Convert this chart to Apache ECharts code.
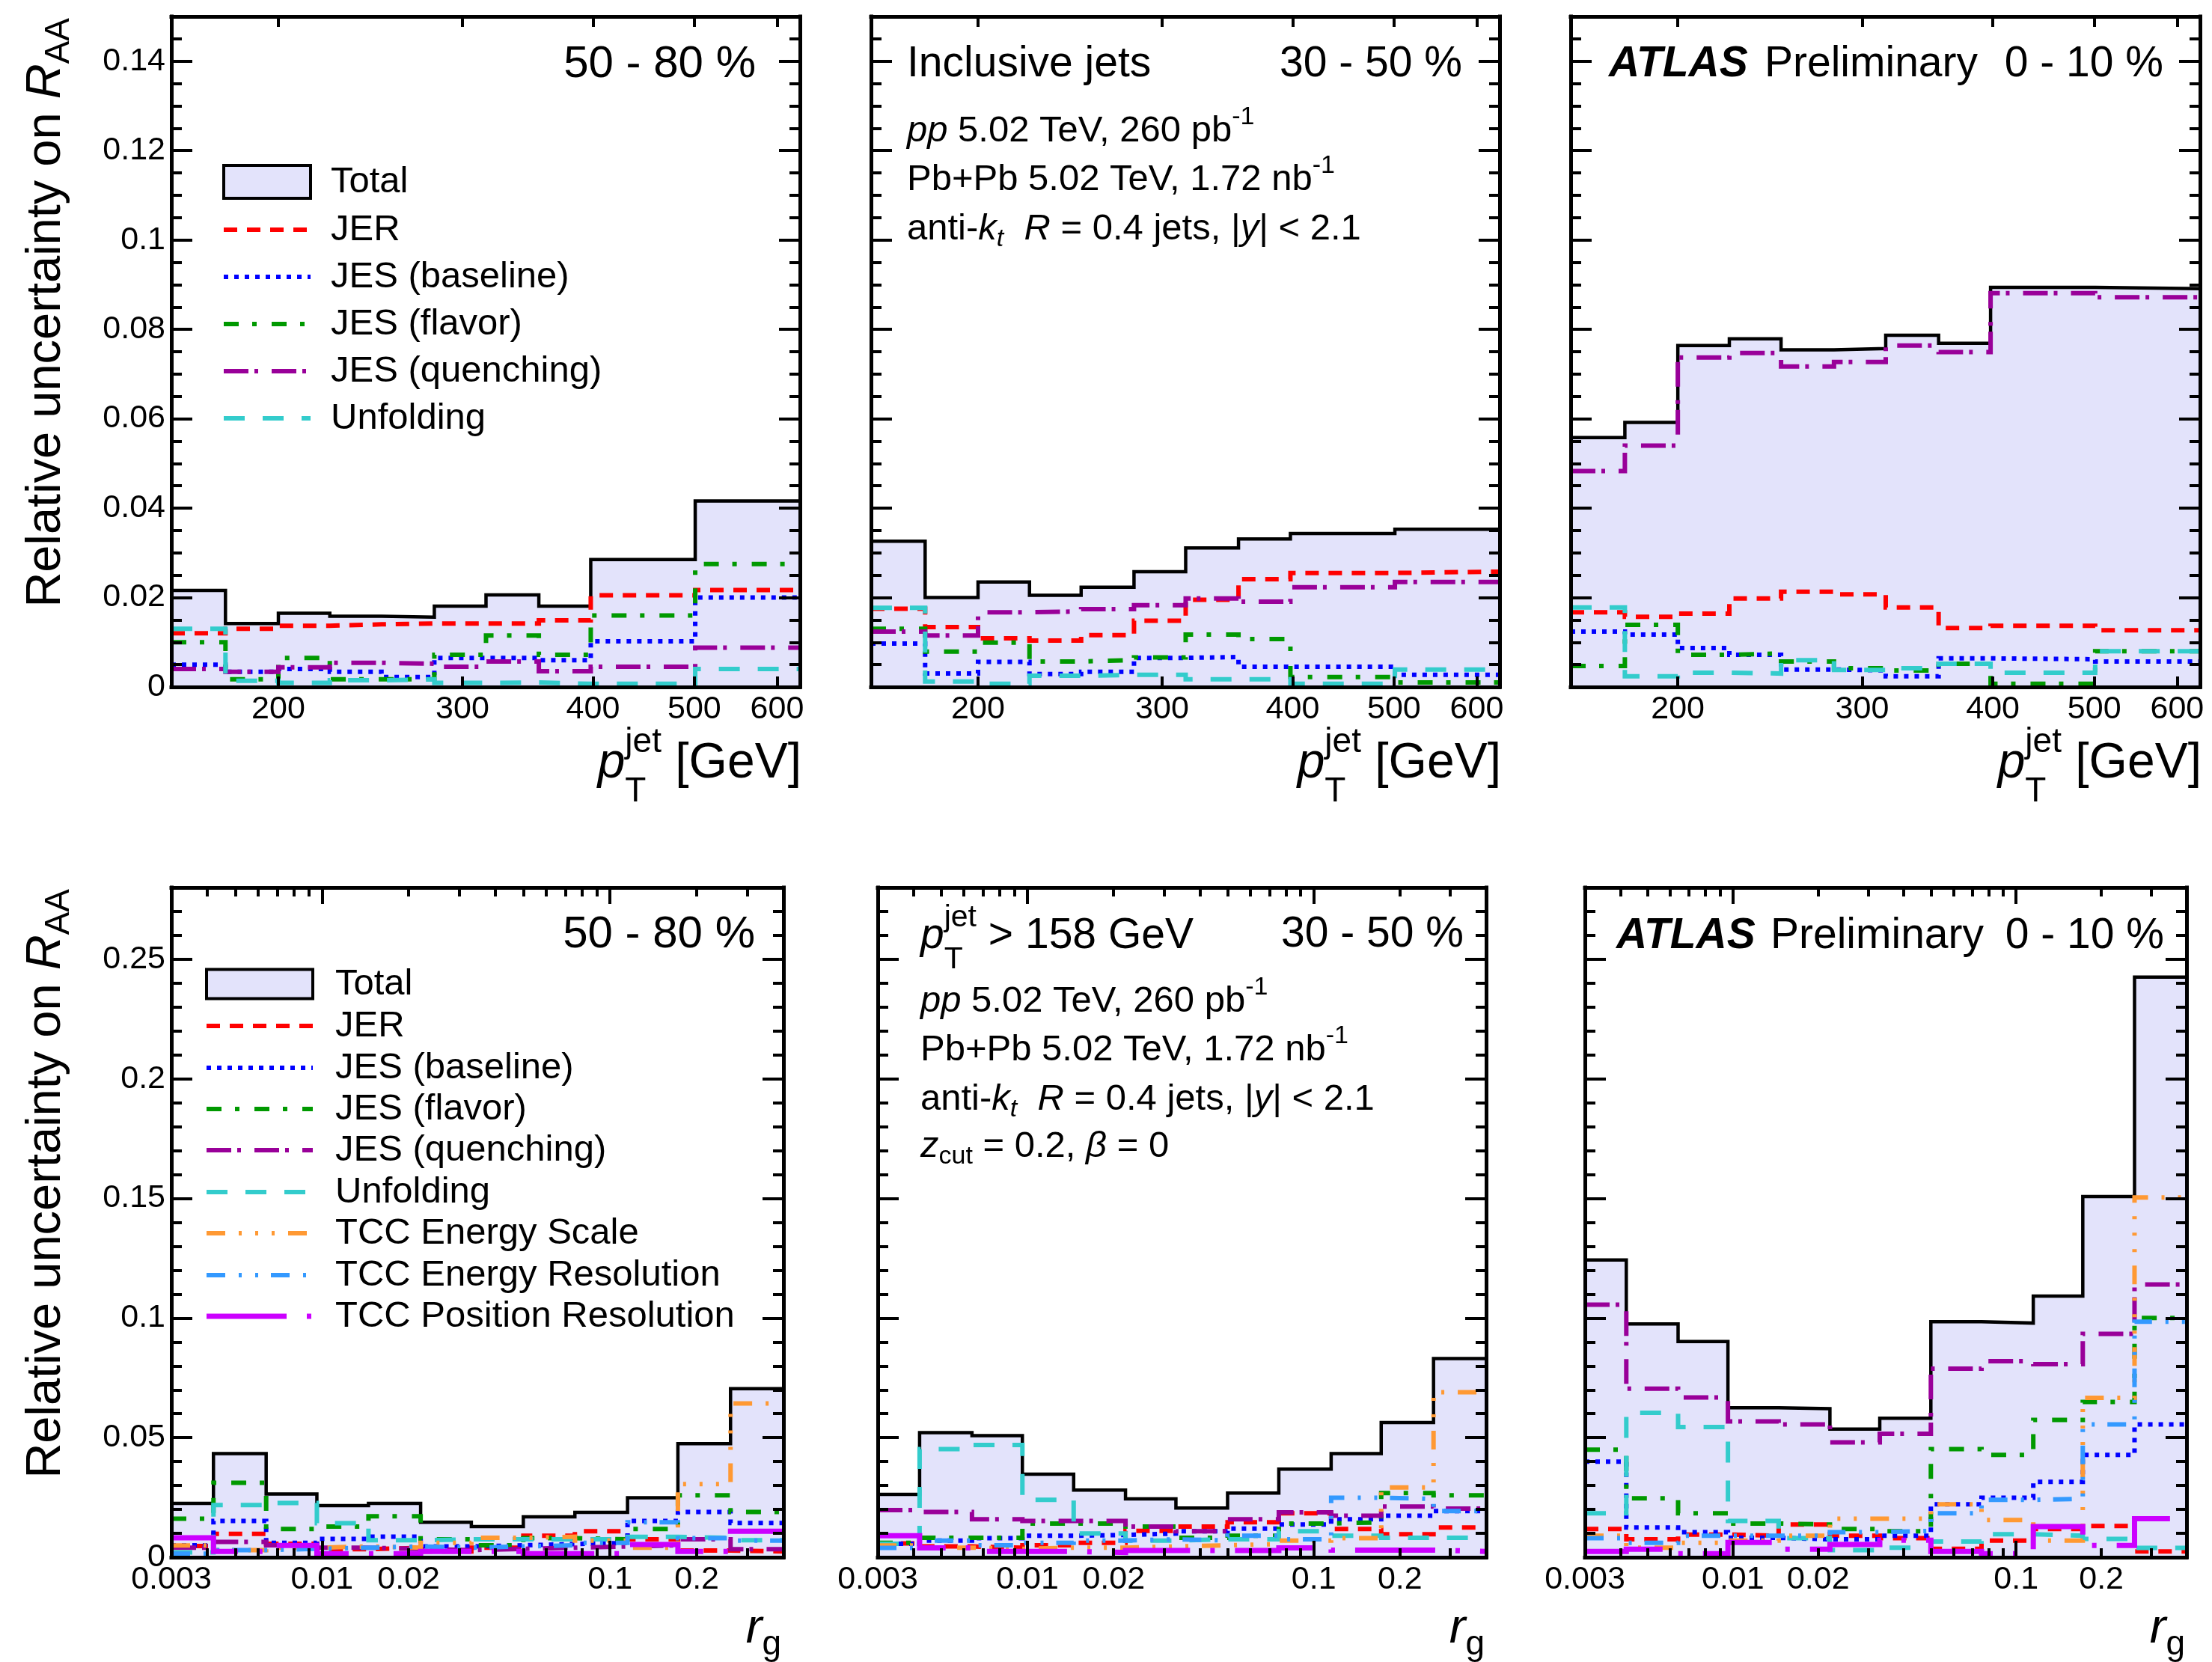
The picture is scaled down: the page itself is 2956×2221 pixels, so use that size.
<!DOCTYPE html>
<html>
<head>
<meta charset="utf-8">
<script src="https://cdn.jsdelivr.net/npm/echarts@6/dist/echarts.min.js"></script>
<style>
html, body { margin: 0; padding: 0; background: #fff; }
#chart { width: 2956px; height: 2221px; }
</style>
</head>
<body>
<div id="chart"></div>
<script>
const FONT = '"Liberation Sans", Arial, Helvetica, sans-serif';

// ---- binning ----
const ptEdges = [158, 178, 200, 224, 251, 282, 316, 355, 398, 501, 631];
const rgEdges = [0.003, 0.0042, 0.0064, 0.0096, 0.0145, 0.022, 0.033, 0.050, 0.0755, 0.115, 0.172, 0.262, 0.4];

// ---- axis ticks and labels ----
const ptTickLabels = [200, 300, 400, 500, 600];
const rgMajorTicks = [0.01, 0.1];
const rgMinorTicks = [0.004, 0.005, 0.006, 0.007, 0.008, 0.009, 0.02, 0.03, 0.04, 0.05, 0.06, 0.07, 0.08, 0.09, 0.2, 0.3];
const rgTickLabels = [0.003, 0.01, 0.02, 0.1, 0.2];
const ptYMajor = [0, 0.02, 0.04, 0.06, 0.08, 0.1, 0.12, 0.14];
const ptYMinor = [0.005, 0.01, 0.015, 0.025, 0.03, 0.035, 0.045, 0.05, 0.055, 0.065, 0.07, 0.075, 0.085, 0.09, 0.095, 0.105, 0.11, 0.115, 0.125, 0.13, 0.135, 0.145];
const rgYMajor = [0, 0.05, 0.1, 0.15, 0.2, 0.25];
const rgYMinor = [0.01, 0.02, 0.03, 0.04, 0.06, 0.07, 0.08, 0.09, 0.11, 0.12, 0.13, 0.14, 0.16, 0.17, 0.18, 0.19, 0.21, 0.22, 0.23, 0.24, 0.26, 0.27];

// ---- inclusive jets vs pT, 50-80 % ----
const pt_50_80_total     = [0.0216, 0.0142, 0.0165, 0.0158, 0.0156, 0.0181, 0.0206, 0.0181, 0.0285, 0.0416];
const pt_50_80_jer       = [0.0120, 0.0130, 0.0137, 0.0140, 0.0142, 0.0142, 0.0142, 0.0149, 0.0205, 0.0217];
const pt_50_80_jesBase   = [0.0050, 0.0034, 0.0040, 0.0034, 0.0022, 0.0065, 0.0065, 0.0060, 0.0102, 0.0200];
const pt_50_80_jesFlav   = [0.0100, 0.0017, 0.0065, 0.0017, 0.0017, 0.0072, 0.0115, 0.0072, 0.0160, 0.0275];
const pt_50_80_jesQuench = [0.0040, 0.0034, 0.0044, 0.0054, 0.0052, 0.0045, 0.0057, 0.0035, 0.0045, 0.0088];
const pt_50_80_unfold    = [0.0130, 0.0014, 0.0009, 0.0015, 0.0017, 0.0009, 0.0010, 0.0007, 0.0007, 0.0040];

// ---- inclusive jets vs pT, 30-50 % ----
const pt_30_50_total     = [0.0326, 0.0200, 0.0235, 0.0205, 0.0223, 0.0258, 0.0311, 0.0331, 0.0343, 0.0353];
const pt_30_50_jer       = [0.0175, 0.0134, 0.0109, 0.0104, 0.0116, 0.0148, 0.0195, 0.0241, 0.0255, 0.0258];
const pt_30_50_jesBase   = [0.0097, 0.0030, 0.0056, 0.0029, 0.0034, 0.0065, 0.0067, 0.0045, 0.0045, 0.0027];
const pt_30_50_jesFlav   = [0.0130, 0.0079, 0.0099, 0.0057, 0.0060, 0.0066, 0.0117, 0.0107, 0.0022, 0.0010];
const pt_30_50_jesQuench = [0.0124, 0.0115, 0.0167, 0.0169, 0.0174, 0.0183, 0.0198, 0.0191, 0.0223, 0.0235];
const pt_30_50_unfold    = [0.0177, 0.0012, 0.0007, 0.0025, 0.0027, 0.0027, 0.0017, 0.0017, 0.0007, 0.0039];

// ---- inclusive jets vs pT, 0-10 % ----
const pt_0_10_total     = [0.0558, 0.0592, 0.0764, 0.0779, 0.0754, 0.0757, 0.0787, 0.0769, 0.0894, 0.0891];
const pt_0_10_jer       = [0.0167, 0.0157, 0.0164, 0.0198, 0.0213, 0.0207, 0.0178, 0.0132, 0.0137, 0.0127];
const pt_0_10_jesBase   = [0.0124, 0.0117, 0.0087, 0.0072, 0.0039, 0.0037, 0.0024, 0.0064, 0.0062, 0.0057];
const pt_0_10_jesFlav   = [0.0047, 0.0139, 0.0072, 0.0075, 0.0057, 0.0042, 0.0037, 0.0052, 0.0007, 0.0080];
const pt_0_10_jesQuench = [0.0483, 0.0540, 0.0737, 0.0747, 0.0717, 0.0727, 0.0764, 0.0749, 0.0881, 0.0872];
const pt_0_10_unfold    = [0.0178, 0.0024, 0.0032, 0.0030, 0.0060, 0.0038, 0.0042, 0.0052, 0.0032, 0.0080];

// ---- groomed jets vs r_g, 50-80 % ----
const rg_50_80_total     = [0.0225, 0.0433, 0.0264, 0.0216, 0.0225, 0.0146, 0.0128, 0.0169, 0.0188, 0.0249, 0.0475, 0.0705];
const rg_50_80_jer       = [0.0047, 0.0098, 0.0056, 0.0034, 0.0039, 0.0024, 0.0040, 0.0090, 0.0109, 0.0075, 0.0028, 0.0024];
const rg_50_80_jesBase   = [0.0050, 0.0152, 0.0060, 0.0077, 0.0086, 0.0045, 0.0050, 0.0055, 0.0060, 0.0152, 0.0189, 0.0143];
const rg_50_80_jesFlav   = [0.0161, 0.0311, 0.0118, 0.0128, 0.0171, 0.0075, 0.0050, 0.0080, 0.0075, 0.0118, 0.0259, 0.0189];
const rg_50_80_jesQuench = [0.0040, 0.0064, 0.0050, 0.0040, 0.0035, 0.0030, 0.0035, 0.0040, 0.0045, 0.0050, 0.0075, 0.0034];
const rg_50_80_unfold    = [0.0020, 0.0218, 0.0227, 0.0142, 0.0071, 0.0075, 0.0075, 0.0075, 0.0075, 0.0085, 0.0081, 0.0071];
const rg_50_80_tccES     = [0.0049, 0.0030, 0.0040, 0.0045, 0.0040, 0.0060, 0.0081, 0.0086, 0.0070, 0.0040, 0.0306, 0.0643];
const rg_50_80_tccER     = [0.0015, 0.0030, 0.0035, 0.0040, 0.0045, 0.0040, 0.0045, 0.0050, 0.0060, 0.0146, 0.0080, 0.0070];
const rg_50_80_tccPR     = [0.0081, 0.0024, 0.0049, 0.0015, 0.0015, 0.0024, 0.0024, 0.0015, 0.0015, 0.0053, 0.0024, 0.0109];

// ---- groomed jets vs r_g, 30-50 % ----
const rg_30_50_total     = [0.0263, 0.0521, 0.0508, 0.0347, 0.0281, 0.0244, 0.0206, 0.0268, 0.0368, 0.0433, 0.0563, 0.0831];
const rg_30_50_jer       = [0.0058, 0.0045, 0.0040, 0.0050, 0.0060, 0.0110, 0.0128, 0.0146, 0.0184, 0.0118, 0.0096, 0.0124];
const rg_30_50_jesBase   = [0.0056, 0.0070, 0.0080, 0.0090, 0.0093, 0.0099, 0.0109, 0.0120, 0.0137, 0.0159, 0.0174, 0.0193];
const rg_30_50_jesFlav   = [0.0060, 0.0081, 0.0081, 0.0141, 0.0141, 0.0128, 0.0081, 0.0090, 0.0141, 0.0146, 0.0268, 0.0259];
const rg_30_50_jesQuench = [0.0197, 0.0189, 0.0159, 0.0152, 0.0152, 0.0128, 0.0109, 0.0159, 0.0188, 0.0174, 0.0212, 0.0203];
const rg_30_50_unfold    = [0.0056, 0.0452, 0.0469, 0.0240, 0.0099, 0.0070, 0.0075, 0.0075, 0.0109, 0.0090, 0.0081, 0.0081];
const rg_30_50_tccES     = [0.0049, 0.0040, 0.0035, 0.0040, 0.0040, 0.0045, 0.0050, 0.0055, 0.0070, 0.0080, 0.0292, 0.0690];
const rg_30_50_tccER     = [0.0039, 0.0070, 0.0050, 0.0060, 0.0070, 0.0075, 0.0070, 0.0090, 0.0075, 0.0249, 0.0244, 0.0193];
const rg_30_50_tccPR     = [0.0090, 0.0039, 0.0024, 0.0024, 0.0020, 0.0028, 0.0028, 0.0028, 0.0039, 0.0030, 0.0030, 0.0024];

// ---- groomed jets vs r_g, 0-10 % ----
const rg_0_10_total     = [0.1243, 0.0975, 0.0902, 0.0625, 0.0621, 0.0536, 0.0581, 0.0985, 0.0979, 0.1092, 0.1508, 0.2425];
const rg_0_10_jer       = [0.0118, 0.0075, 0.0095, 0.0090, 0.0137, 0.0090, 0.0080, 0.0035, 0.0070, 0.0118, 0.0131, 0.0024];
const rg_0_10_jesBase   = [0.0400, 0.0124, 0.0105, 0.0081, 0.0075, 0.0075, 0.0090, 0.0221, 0.0249, 0.0315, 0.0428, 0.0555];
const rg_0_10_jesFlav   = [0.0450, 0.0246, 0.0184, 0.0141, 0.0137, 0.0118, 0.0109, 0.0452, 0.0428, 0.0574, 0.0649, 0.1000];
const rg_0_10_jesQuench = [0.1056, 0.0705, 0.0668, 0.0568, 0.0555, 0.0480, 0.0516, 0.0788, 0.0820, 0.0807, 0.0934, 0.1140];
const rg_0_10_unfold    = [0.0184, 0.0604, 0.0544, 0.0152, 0.0080, 0.0030, 0.0040, 0.0066, 0.0096, 0.0090, 0.0077, 0.0039];
const rg_0_10_tccES     = [0.0090, 0.0040, 0.0060, 0.0070, 0.0090, 0.0161, 0.0161, 0.0221, 0.0156, 0.0070, 0.0666, 0.1504];
const rg_0_10_tccER     = [0.0080, 0.0060, 0.0090, 0.0090, 0.0090, 0.0105, 0.0110, 0.0184, 0.0240, 0.0244, 0.0555, 0.0985];
const rg_0_10_tccPR     = [0.0024, 0.0034, 0.0015, 0.0062, 0.0034, 0.0053, 0.0071, 0.0024, 0.0015, 0.0128, 0.0049, 0.0161];

// ---- line styles of the uncertainty components ----
const FILL = '#e3e3fb';
const STYLES = {
  total:     { name: 'Total',                   color: '#000000', width: 4.5 },
  jer:       { name: 'JER',                     color: '#ff0000', width: 6, dash: [18, 13] },
  jesBase:   { name: 'JES (baseline)',          color: '#0000ff', width: 6, dash: [6, 8] },
  jesFlav:   { name: 'JES (flavor)',            color: '#009900', width: 6, dash: [20, 18, 6, 20] },
  jesQuench: { name: 'JES (quenching)',         color: '#990099', width: 6, dash: [33, 8, 5, 18] },
  unfold:    { name: 'Unfolding',               color: '#33cccc', width: 6, dash: [28, 24] },
  tccES:     { name: 'TCC Energy Scale',        color: '#ff9933', width: 6, dash: [25, 18, 4, 18, 4, 18, 4, 18] },
  tccER:     { name: 'TCC Energy Resolution',   color: '#3399ff', width: 6, dash: [25, 18, 4, 18, 4, 17] },
  tccPR:     { name: 'TCC Position Resolution', color: '#cc00ff', width: 7, dash: [107, 27, 6, 27] }
};
const ORDER = ['jer', 'jesBase', 'jesFlav', 'jesQuench', 'unfold', 'tccES', 'tccER', 'tccPR'];

const PT_X = { min: 158, max: 631, major: ptTickLabels, majorLen: 14, minor: null, labels: ptTickLabels, edges: ptEdges };
const RG_X = { min: 0.003, max: 0.4, major: rgMajorTicks, majorLen: 22, minor: rgMinorTicks, minorLen: 12, labels: rgTickLabels, edges: rgEdges };
const PT_Y = { max: 0.15, major: ptYMajor, minor: ptYMinor };
const RG_Y = { max: 0.28, major: rgYMajor, minor: rgYMinor };

const panels = [
  { box: [229, 22, 840, 896], x: PT_X, y: PT_Y, yLabels: true,
    data: { total: pt_50_80_total, jer: pt_50_80_jer, jesBase: pt_50_80_jesBase, jesFlav: pt_50_80_jesFlav, jesQuench: pt_50_80_jesQuench, unfold: pt_50_80_unfold } },
  { box: [1164, 22, 840, 896], x: PT_X, y: PT_Y, yLabels: false,
    data: { total: pt_30_50_total, jer: pt_30_50_jer, jesBase: pt_30_50_jesBase, jesFlav: pt_30_50_jesFlav, jesQuench: pt_30_50_jesQuench, unfold: pt_30_50_unfold } },
  { box: [2099, 22, 841, 896], x: PT_X, y: PT_Y, yLabels: false,
    data: { total: pt_0_10_total, jer: pt_0_10_jer, jesBase: pt_0_10_jesBase, jesFlav: pt_0_10_jesFlav, jesQuench: pt_0_10_jesQuench, unfold: pt_0_10_unfold } },
  { box: [229, 1186, 818, 895], x: RG_X, y: RG_Y, yLabels: true,
    data: { total: rg_50_80_total, jer: rg_50_80_jer, jesBase: rg_50_80_jesBase, jesFlav: rg_50_80_jesFlav, jesQuench: rg_50_80_jesQuench, unfold: rg_50_80_unfold, tccES: rg_50_80_tccES, tccER: rg_50_80_tccER, tccPR: rg_50_80_tccPR } },
  { box: [1173, 1186, 813, 895], x: RG_X, y: RG_Y, yLabels: false,
    data: { total: rg_30_50_total, jer: rg_30_50_jer, jesBase: rg_30_50_jesBase, jesFlav: rg_30_50_jesFlav, jesQuench: rg_30_50_jesQuench, unfold: rg_30_50_unfold, tccES: rg_30_50_tccES, tccER: rg_30_50_tccER, tccPR: rg_30_50_tccPR } },
  { box: [2118, 1186, 804, 895], x: RG_X, y: RG_Y, yLabels: false,
    data: { total: rg_0_10_total, jer: rg_0_10_jer, jesBase: rg_0_10_jesBase, jesFlav: rg_0_10_jesFlav, jesQuench: rg_0_10_jesQuench, unfold: rg_0_10_unfold, tccES: rg_0_10_tccES, tccER: rg_0_10_tccER, tccPR: rg_0_10_tccPR } }
];

// histogram contents -> step-line points (left edge of each bin, plus closing right edge)
function stepData(edges, vals) {
  const d = vals.map((v, i) => [edges[i], v]);
  d.push([edges[edges.length - 1], vals[vals.length - 1]]);
  return d;
}
const fmtNum = v => String(Math.round(v * 1e6) / 1e6);
const labelStyle = (margin) => ({ show: true, fontSize: 43, fontFamily: FONT, color: '#000', margin, hideOverlap: false });

const grid = [], xAxis = [], yAxis = [], series = [];

panels.forEach((p, gi) => {
  const [left, top, width, height] = p.box;
  grid.push({ left, top, width, height, show: false, containLabel: false, outerBoundsMode: 'none' });

  const mkX = (pos, ticks, len, labels, line) => ({
    gridIndex: gi, type: 'log', logBase: 10, min: p.x.min, max: p.x.max, position: pos,
    axisLine: { show: line, onZero: false, lineStyle: { color: '#000', width: 5, cap: 'square' } },
    axisTick: { show: true, inside: true, length: len, customValues: ticks, lineStyle: { color: '#000', width: 4 } },
    axisLabel: labels ? Object.assign(labelStyle(9), { customValues: labels, formatter: fmtNum }) : { show: false },
    splitLine: { show: false }, minorTick: { show: false }, minorSplitLine: { show: false },
    z: 10, silent: true
  });
  const mkY = (pos, ticks, len, labels, line) => ({
    gridIndex: gi, type: 'value', min: 0, max: p.y.max, position: pos,
    axisLine: { show: line, onZero: false, lineStyle: { color: '#000', width: 5, cap: 'square' } },
    axisTick: { show: true, inside: true, length: len, customValues: ticks, lineStyle: { color: '#000', width: 4 } },
    axisLabel: labels ? Object.assign(labelStyle(8), { customValues: labels, formatter: fmtNum }) : { show: false },
    splitLine: { show: false }, minorTick: { show: false }, minorSplitLine: { show: false },
    z: 10, silent: true
  });

  const xMain = xAxis.length;
  xAxis.push(mkX('bottom', p.x.major, p.x.majorLen, p.x.labels, true));
  xAxis.push(mkX('top', p.x.major, p.x.majorLen, null, true));
  if (p.x.minor) {
    xAxis.push(mkX('bottom', p.x.minor, p.x.minorLen, null, false));
    xAxis.push(mkX('top', p.x.minor, p.x.minorLen, null, false));
  }
  const yMain = yAxis.length;
  yAxis.push(mkY('left', p.y.major, 28, p.yLabels ? p.y.major : null, true));
  yAxis.push(mkY('right', p.y.major, 28, null, true));
  yAxis.push(mkY('left', p.y.minor, 14, null, false));
  yAxis.push(mkY('right', p.y.minor, 14, null, false));

  // total uncertainty: filled histogram
  series.push({
    type: 'line', name: STYLES.total.name, xAxisIndex: xMain, yAxisIndex: yMain,
    data: stepData(p.x.edges, p.data.total), step: 'end', showSymbol: false, symbol: 'none',
    lineStyle: { color: STYLES.total.color, width: STYLES.total.width, cap: 'butt', join: 'miter' },
    areaStyle: { color: FILL, opacity: 1 }, z: 2, silent: true
  });
  // individual components
  ORDER.forEach(key => {
    if (!p.data[key]) return;
    const s = STYLES[key];
    series.push({
      type: 'line', name: s.name, xAxisIndex: xMain, yAxisIndex: yMain,
      data: stepData(p.x.edges, p.data[key]), step: 'end', showSymbol: false, symbol: 'none',
      lineStyle: { color: s.color, width: s.width, type: s.dash, cap: 'butt', join: 'miter' },
      z: 3, silent: true
    });
  });
});

// ---- text with italic / sub / superscript runs ----
const mctx = document.createElement('canvas').getContext('2d');
function fontStr(r) { return (r.it ? 'italic ' : '') + (r.b ? 'bold ' : '') + r.size + 'px ' + FONT; }
function textRuns(x, y, items, opt) {
  opt = opt || {};
  let cx = 0, prevStart = 0, prevW = 0;
  const placed = [];
  items.forEach(r => {
    r.size = r.size || opt.size || 49;
    mctx.font = fontStr(r);
    const w = mctx.measureText(r.t).width;
    let s;
    if (r.stack) { s = prevStart; cx = prevStart + Math.max(prevW, w); }
    else { s = cx; cx += w; }
    placed.push({ r, s });
    prevStart = s; prevW = w;
  });
  const shift = opt.align === 'right' ? -cx : 0;
  return {
    type: 'group', x, y, rotation: opt.rotation || 0, silent: true, z: 20,
    children: placed.map(({ r, s }) => ({
      type: 'text', x: s + shift, y: r.dy || 0, silent: true,
      style: { text: r.t, font: fontStr(r), fill: '#000', align: 'left', verticalAlign: 'middle', textAlign: 'left', textVerticalAlign: 'middle' }
    }))
  };
}

const graphics = [];
// y-axis titles
const yTitle = () => [{ t: 'Relative uncertainty on ', size: 65 }, { t: 'R', size: 65, it: true }, { t: 'AA', size: 46, dy: 17 }];
graphics.push(textRuns(62, 24, yTitle(), { align: 'right', rotation: Math.PI / 2 }));
graphics.push(textRuns(62, 1188, yTitle(), { align: 'right', rotation: Math.PI / 2 }));

// x-axis titles
const ptTitle = () => [{ t: 'p', size: 66, it: true }, { t: 'jet', size: 46, dy: -29 }, { t: 'T', size: 46, dy: 37, stack: true }, { t: ' [GeV]', size: 66 }];
[1071, 2006, 2942].forEach(xr => graphics.push(textRuns(xr, 1021, ptTitle(), { align: 'right' })));
const rgTitle = () => [{ t: 'r', size: 65, it: true }, { t: 'g', size: 46, dy: 21 }];
[1044, 1984, 2920].forEach(xr => graphics.push(textRuns(xr, 2177, rgTitle(), { align: 'right' })));

// panel captions
const HEAD = 57;
graphics.push(textRuns(1010, 86, [{ t: '50 - 80 %', size: 60 }], { align: 'right' }));
graphics.push(textRuns(1212, 86, [{ t: 'Inclusive jets', size: HEAD }]));
graphics.push(textRuns(1954, 86, [{ t: '30 - 50 %', size: HEAD }], { align: 'right' }));
graphics.push(textRuns(2150, 86, [{ t: 'ATLAS', size: HEAD, it: true, b: true }]));
graphics.push(textRuns(2358, 86, [{ t: 'Preliminary', size: HEAD }]));
graphics.push(textRuns(2891, 86, [{ t: '0 - 10 %', size: HEAD }], { align: 'right' }));

const lumiPP = () => [{ t: 'pp', it: true }, { t: ' 5.02 TeV, 260 pb' }, { t: '-1', size: 34, dy: -18 }];
const lumiPbPb = () => [{ t: 'Pb+Pb 5.02 TeV, 1.72 nb' }, { t: '-1', size: 34, dy: -18 }];
const jetDef = () => [{ t: 'anti-' }, { t: 'k', it: true }, { t: 't', it: true, size: 34, dy: 14 }, { t: '  ' }, { t: 'R', it: true }, { t: ' = 0.4 jets, |' }, { t: 'y', it: true }, { t: '| < 2.1' }];
graphics.push(textRuns(1212, 175, lumiPP()));
graphics.push(textRuns(1212, 240, lumiPbPb()));
graphics.push(textRuns(1212, 306, jetDef()));

graphics.push(textRuns(1009, 1249, [{ t: '50 - 80 %', size: 60 }], { align: 'right' }));
graphics.push(textRuns(1230, 1251, [{ t: 'p', size: HEAD, it: true }, { t: 'jet', size: 41, dy: -24 }, { t: 'T', size: 41, dy: 32, stack: true }, { t: ' > 158 GeV', size: HEAD }]));
graphics.push(textRuns(1956, 1249, [{ t: '30 - 50 %', size: HEAD }], { align: 'right' }));
graphics.push(textRuns(1230, 1338, lumiPP()));
graphics.push(textRuns(1230, 1403, lumiPbPb()));
graphics.push(textRuns(1230, 1469, jetDef()));
graphics.push(textRuns(1230, 1532, [{ t: 'z', it: true }, { t: 'cut', size: 34, dy: 14 }, { t: ' = 0.2, ' }, { t: '\u03b2', it: true }, { t: ' = 0' }]));
graphics.push(textRuns(2160, 1251, [{ t: 'ATLAS', size: HEAD, it: true, b: true }]));
graphics.push(textRuns(2366, 1251, [{ t: 'Preliminary', size: HEAD }]));
graphics.push(textRuns(2892, 1251, [{ t: '0 - 10 %', size: HEAD }], { align: 'right' }));

// ---- legends ----
function legend(x0, x1, textX, rows, keys, boxH) {
  keys.forEach((key, i) => {
    const y = rows[i], s = STYLES[key];
    if (key === 'total') {
      graphics.push({ type: 'rect', silent: true, z: 20, shape: { x: x0, y: y - boxH / 2, width: x1 - x0, height: boxH },
        style: { fill: FILL, stroke: '#000', lineWidth: 4 } });
    } else {
      graphics.push({ type: 'line', silent: true, z: 20, shape: { x1: x0, y1: y, x2: x1, y2: y },
        style: { stroke: s.color, lineWidth: s.width, lineDash: s.dash, lineCap: 'butt' } });
    }
    graphics.push(textRuns(textX, y, [{ t: s.name, size: 49 }]));
  });
}
legend(299, 415, 442, [243, 307, 370, 433, 496, 559], ['total', 'jer', 'jesBase', 'jesFlav', 'jesQuench', 'unfold'], 44);
legend(276, 418, 448, [1315, 1371, 1427, 1482, 1537, 1593, 1648, 1704, 1759],
  ['total', 'jer', 'jesBase', 'jesFlav', 'jesQuench', 'unfold', 'tccES', 'tccER', 'tccPR'], 39);

const chart = echarts.init(document.getElementById('chart'), null, { renderer: 'canvas' });
chart.setOption({
  animation: false,
  backgroundColor: '#ffffff',
  textStyle: { fontFamily: FONT },
  grid, xAxis, yAxis, series,
  graphic: { elements: graphics }
});
</script>
</body>
</html>
